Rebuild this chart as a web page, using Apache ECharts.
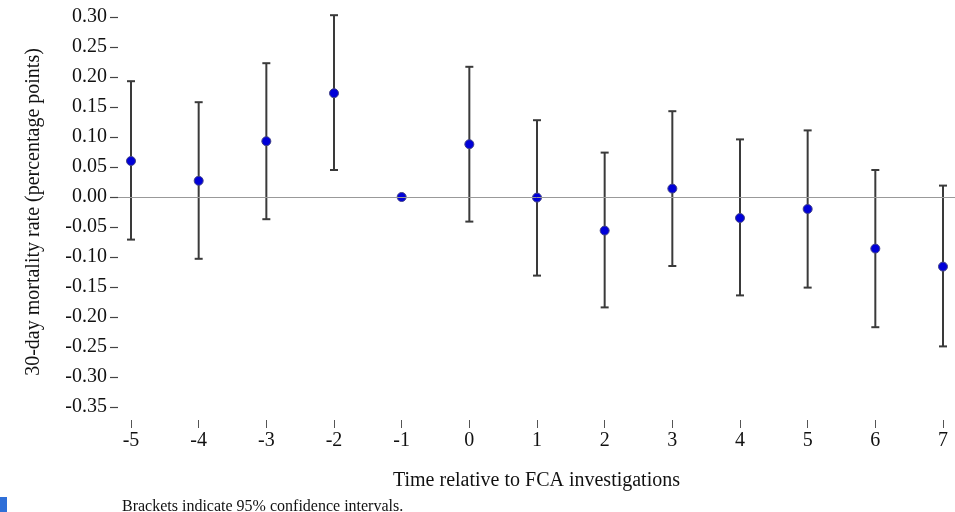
<!DOCTYPE html>
<html>
<head>
<meta charset="utf-8">
<script src="https://cdn.jsdelivr.net/npm/echarts@6/dist/echarts.min.js"></script>
<style>
  html, body { margin: 0; padding: 0; background: #fff; }
  #chart { width: 955px; height: 512px; }
</style>
</head>
<body>
<div id="chart"></div>
<script>
// event-time periods relative to the investigation
var periods = [-5, -4, -3, -2, -1, 0, 1, 2, 3, 4, 5, 6, 7];
// point estimates (percentage points)
var estimates = [0.060, 0.027, 0.093, 0.173, 0.000, 0.088, -0.001, -0.056, 0.014, -0.035, -0.020, -0.086, -0.116];
// 95% CI bounds, period -1 is the reference (no interval)
var lower = [-0.071, -0.103, -0.037, 0.045, null, -0.041, -0.131, -0.184, -0.115, -0.164, -0.151, -0.217, -0.249];
var upper = [0.193, 0.158, 0.223, 0.303, null, 0.217, 0.128, 0.074, 0.143, 0.096, 0.111, 0.045, 0.019];
var yTicks = [-0.35, -0.30, -0.25, -0.20, -0.15, -0.10, -0.05, 0.00, 0.05, 0.10, 0.15, 0.20, 0.25, 0.30];

var serif = '"Liberation Serif", "DejaVu Serif", serif';

var pointData = periods.map(function (p, i) { return [p, estimates[i]]; });
var ciData = [];
periods.forEach(function (p, i) {
	if (lower[i] !== null) ciData.push([p, lower[i], upper[i]]);
});

var chart = echarts.init(document.getElementById('chart'));
chart.setOption({
	animation: false,
	backgroundColor: '#fff',
	title: {
		text: 'Brackets indicate 95% confidence intervals.',
		left: 117, top: 494,
		textStyle: { fontFamily: serif, fontSize: 16, fontWeight: 'normal', color: '#111' }
	},
	grid: { left: 118, right: 0, top: 17, bottom: 105 },
	xAxis: {
		type: 'value',
		min: -5 - 13 / 67.6,
		max: 7 + 12 / 67.6,
		offset: 13,
		axisLine: { show: false, onZero: false },
		splitLine: { show: false },
		axisTick: { show: true, length: 8, customValues: periods, lineStyle: { color: '#555', width: 1 } },
		axisLabel: {
			customValues: periods, margin: 11,
			fontFamily: serif, fontSize: 20, color: '#111'
		},
		name: 'Time relative to FCA investigations',
		nameLocation: 'middle', nameGap: 51,
		nameTextStyle: { fontFamily: serif, fontSize: 20, color: '#111' }
	},
	yAxis: {
		type: 'value',
		min: -0.35, max: 0.30, interval: 0.05,
		axisLine: { show: false, onZero: false },
		splitLine: { show: false },
		axisTick: { show: true, length: 8, customValues: yTicks, lineStyle: { color: '#444', width: 1.2 } },
		axisLabel: {
			customValues: yTicks, margin: 11,
			fontFamily: serif, fontSize: 20, color: '#111',
			formatter: function (v) { return v.toFixed(2); }
		},
		name: '30-day mortality rate (percentage points)',
		nameLocation: 'middle', nameGap: 74,
		nameTextStyle: { fontFamily: serif, fontSize: 20, color: '#111' }
	},
	graphic: [{
		type: 'rect', left: 0, top: 497,
		shape: { width: 7, height: 15 },
		style: { fill: '#2f6fd8' }
	}],
	series: [{
		type: 'custom',
		data: ciData,
		z: 2,
		renderItem: function (params, api) {
			var x = api.value(0);
			var lo = api.coord([x, api.value(1)]);
			var hi = api.coord([x, api.value(2)]);
			var cap = 4;
			var st = { stroke: '#3a3a3a', lineWidth: 2 };
			return {
				type: 'group',
				children: [
					{ type: 'line', shape: { x1: lo[0], y1: lo[1], x2: hi[0], y2: hi[1] }, style: st },
					{ type: 'line', shape: { x1: lo[0] - cap, y1: lo[1], x2: lo[0] + cap, y2: lo[1] }, style: st },
					{ type: 'line', shape: { x1: hi[0] - cap, y1: hi[1], x2: hi[0] + cap, y2: hi[1] }, style: st }
				]
			};
		},
		markLine: {
			silent: true, symbol: 'none', label: { show: false },
			lineStyle: { color: '#999', width: 1, type: 'solid' },
			data: [{ yAxis: 0 }]
		}
	}, {
		type: 'scatter',
		data: pointData,
		z: 3,
		symbol: 'circle',
		symbolSize: 9,
		itemStyle: { color: '#0000d8', borderColor: '#444488', borderWidth: 1, opacity: 1 }
	}]
});
</script>
</body>
</html>
